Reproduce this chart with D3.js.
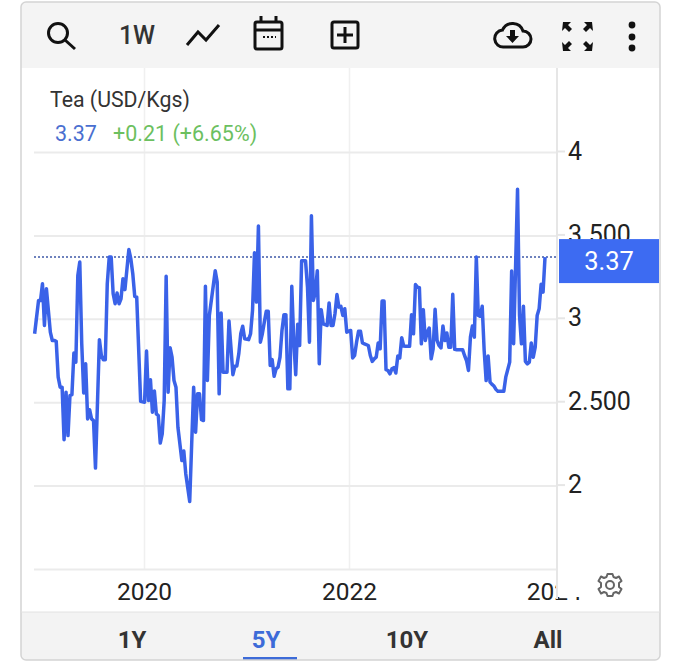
<!DOCTYPE html>
<meta charset="utf-8">
<style>
html, body { margin: 0; background: #fff; }
svg { display: block; font-family: Roboto, sans-serif; }
.grid line { stroke: #ebebeb; stroke-width: 2; }
.grid.vert line { stroke: #f0f0f0; stroke-width: 1.5; }
.grid path { display: none; }
.yaxis path, .xaxis path { display: none; }
.yaxis line, .xaxis line { stroke: #e6e6e6; stroke-width: 2; }
.yaxis text { font-size: 25px; fill: #222; font-family: Roboto, sans-serif; }
.xaxis text { font-size: 24.5px; fill: #222; font-family: Roboto, sans-serif; }
.price { fill: none; stroke: #3a62e8; stroke-width: 3.5; stroke-linejoin: round; }
.icon { fill: none; stroke: #111; stroke-width: 3; }
.btn { font-size: 24px; font-weight: 700; fill: #333; text-anchor: middle; }
</style>
<svg width="680" height="662"></svg>
<script src="https://d3js.org/d3.v7.min.js"></script>
<script>
// weekly tea price, week number counted from the first point
var weeks = [0,2,3,4,5,6,8,9,10,11,12,13,14,15,16,17,18,19,20,21,22,23,24,25,26,27,28,29,30,31,33,34,35,36,37,38,39,40,41,42,43,44,45,46,48,49,50,51,52,54,56,57,58,59,60,61,62,63,64,65,66,67,68,69,70,71,72,73,75,76,77,79,81,82,83,84,85,86,87,88,89,92,93,94,95,96,98,99,
  100,101,102,103,104,105,106,107,109,110,111,112,113,114,115,116,117,118,119,120,121,122,123,124,125,126,127,128,129,130,131,132,133,134,135,136,138,139,140,141,142,143,144,145,146,147,148,149,150,151,152,153,154,155,156,157,158,159,161,162,163,164,165,166,167,168,170,171,172,173,174,175,176,177,178,179,180,181,182,183,184,185,186,187,188,189,191,192,193,194,195,196,197,198,199,200,201,202,203,204,205,206,207,208,209,210,211,212,213,214,215,218,219,220,221,222,223,224,225,226,227,228,229,230,231,232,233,234,235,236,239,240,242,243,244,246,247,248,249,250,251,252,253,254,255,256,257,258,259,260];
var prices = [2.91,3.11,3.11,3.21,2.96,3.18,2.92,2.87,2.87,2.865,2.65,2.59,2.59,2.275,2.56,2.30,2.54,2.545,2.795,2.74,3.26,3.34,2.85,2.555,2.73,2.40,2.455,2.40,2.39,2.105,2.875,2.78,2.755,2.755,3.21,3.37,3.37,3.15,3.09,3.155,3.09,3.12,3.24,3.175,3.415,3.36,3.27,3.135,3.13,2.505,2.50,2.807,2.51,2.635,2.44,2.567,2.43,2.42,2.255,2.31,2.51,3.255,2.56,2.827,2.77,2.63,2.59,2.35,2.15,2.207,2.07,1.905,2.59,2.32,2.55,2.55,2.395,2.39,3.195,2.63,3.02,3.288,3.22,2.55,3.035,2.68,2.68,2.987,
  2.83,2.665,2.715,2.717,2.79,2.91,2.955,2.88,2.875,2.91,3.05,3.396,3.10,3.556,2.86,2.91,2.98,3.045,3.045,2.72,2.755,2.655,2.70,2.71,2.77,2.93,3.025,3.025,2.58,2.58,3.195,2.87,2.665,2.967,2.84,3.348,3.348,3.19,2.86,3.618,3.11,3.16,3.288,2.73,3.055,2.97,2.965,2.96,3.095,2.96,2.96,3.03,3.145,3.07,3.075,3.02,3.06,2.92,2.93,2.765,2.78,2.86,2.925,2.925,2.855,2.85,2.84,2.78,2.745,2.76,2.77,2.855,2.82,3.107,3.107,2.695,2.69,2.67,2.70,2.707,2.675,2.777,2.765,2.887,2.837,2.835,2.835,3.025,2.91,3.205,3.19,3.187,2.85,3.055,2.87,2.92,2.945,2.76,2.82,3.057,2.87,2.84,2.825,2.957,2.87,2.915,2.83,2.83,3.147,2.817,2.815,2.815,2.78,2.75,2.69,2.89,2.957,2.89,3.37,3.02,3.015,3.075,2.81,2.63,2.777,2.62,2.607,2.597,2.577,2.565,2.565,2.65,2.74,3.287,2.85,3.776,3.02,2.85,3.075,2.745,2.73,2.74,2.855,2.77,2.83,3.02,3.06,3.207,3.16,3.37];
var firstWeek = new Date(2018, 11, 7);
var yTicks = [2, 2.5, 3, 3.5, 4];
var yLabels = {2: "2", 2.5: "2.500", 3: "3", 3.5: "3.500", 4: "4"};
var xTicks = [new Date(2020, 0, 1), new Date(2022, 0, 1), new Date(2024, 0, 1)];
var lastPrice = 3.37;
var ranges = ["1Y", "5Y", "10Y", "All"];
var rangeX = [132, 266, 407, 548];

var svg = d3.select("svg");
var plotLeft = 34, axisX = 557, plotTop = 68, plotBottom = 569;

var x = d3.scaleTime()
    .domain([new Date(2020, 0, 1), new Date(2022, 0, 1)])
    .range([144, 349]);
var y = d3.scaleLinear().domain([1.5, 4]).range([plotBottom, 152]);

// card
svg.append("rect").attr("x", 21).attr("y", 2).attr("width", 639).attr("height", 658)
    .attr("rx", 5).attr("fill", "#fff");
svg.append("path").attr("d", "M21 68V7a5 5 0 0 1 5-5H655a5 5 0 0 1 5 5V68Z").attr("fill", "#f4f4f4");
svg.append("path").attr("d", "M21 612V655a5 5 0 0 0 5 5H655a5 5 0 0 0 5-5V612Z").attr("fill", "#f3f3f3");

// grid
svg.append("g").attr("class", "grid vert")
    .attr("transform", "translate(0," + plotBottom + ")")
    .call(d3.axisBottom(x).tickValues(xTicks.slice(0, 2)).tickSize(-(plotBottom - plotTop)).tickFormat(""));
svg.append("g").attr("class", "grid")
    .attr("transform", "translate(" + axisX + ",0)")
    .call(d3.axisLeft(y).tickValues([1.5].concat(yTicks)).tickSize(axisX - plotLeft).tickFormat(""));
svg.append("line").attr("x1", axisX).attr("x2", axisX).attr("y1", plotTop).attr("y2", 600)
    .attr("stroke", "#e6e6e6").attr("stroke-width", 2);

// axes
svg.append("g").attr("class", "yaxis")
    .attr("transform", "translate(" + axisX + ",-1)")
    .call(d3.axisRight(y).tickValues(yTicks).tickSize(8).tickPadding(3)
        .tickFormat(function(d) { return yLabels[d]; }));
svg.append("g").attr("class", "xaxis")
    .attr("transform", "translate(0," + plotBottom + ")")
    .call(d3.axisBottom(x).tickValues(xTicks).tickSize(0).tickPadding(14)
        .tickFormat(d3.timeFormat("%Y")));

// the last year label is half hidden in the original
svg.append("rect").attr("x", 556.5).attr("y", 572).attr("width", 36).attr("height", 25).attr("fill", "#fff");
svg.append("line").attr("x1", axisX).attr("x2", axisX).attr("y1", 569).attr("y2", 599)
    .attr("stroke", "#e6e6e6").attr("stroke-width", 2);

// last value marker
svg.append("line").attr("x1", plotLeft).attr("x2", axisX)
    .attr("y1", y(lastPrice)).attr("y2", y(lastPrice))
    .attr("stroke", "#3f5aa8").attr("stroke-width", 1.5).attr("stroke-dasharray", "2 2");

var line = d3.line()
    .x(function(d, i) { return x(d3.timeWeek.offset(firstWeek, d)); })
    .y(function(d, i) { return y(prices[i]); });
svg.append("path").datum(weeks).attr("class", "price").attr("d", line);

svg.append("rect").attr("x", 559).attr("y", y(lastPrice) - 18).attr("width", 100).attr("height", 44)
    .attr("fill", "#3d6bf2");
svg.append("text").attr("x", 609).attr("y", y(lastPrice) + 13).attr("text-anchor", "middle")
    .attr("font-size", 25.5).attr("fill", "#fff").text(lastPrice);

// title
svg.append("text").attr("x", 50).attr("y", 107).attr("font-size", 21.3).attr("fill", "#333").text("Tea (USD/Kgs)");
svg.append("text").attr("x", 55).attr("y", 141).attr("font-size", 21.500).attr("fill", "#4a6fd0").text("3.37");
svg.append("text").attr("x", 113).attr("y", 141).attr("font-size", 21.500).attr("fill", "#6cc05f").text("+0.21 (+6.65%)");

// toolbar
var bar = svg.append("g");
bar.append("circle").attr("class", "icon").attr("cx", 58).attr("cy", 33).attr("r", 9.5);
bar.append("path").attr("class", "icon").attr("d", "M65 40L75 49");
bar.append("text").attr("x", 137).attr("y", 44).attr("text-anchor", "middle")
    .attr("font-size", 25).attr("font-weight", 500).attr("fill", "#333").text("1W");
bar.append("path").attr("class", "icon").attr("d", "M187 45L198 32L206 40L219 25");
bar.append("rect").attr("class", "icon").attr("x", 255).attr("y", 22).attr("width", 27).attr("height", 27).attr("rx", 2);
bar.append("path").attr("class", "icon").attr("d", "M255 30H282M261 16V22M276 16V22");
bar.append("path").attr("stroke", "#111").attr("stroke-width", 2).attr("stroke-dasharray", "2 2").attr("d", "M263 37H276");
bar.append("rect").attr("class", "icon").attr("x", 332).attr("y", 22).attr("width", 26).attr("height", 26).attr("rx", 2);
bar.append("path").attr("class", "icon").attr("d", "M345 27V43M337 35H353");
bar.append("path").attr("class", "icon")
    .attr("d", "M504 47a8.5 8.5 0 0 1-1.5-17a11 11 0 0 1 20.5 1a8 8 0 0 1 0 16Z");
bar.append("path").attr("d", "M510 30h5v6h4l-6.500 7l-6.500-7h4Z").attr("fill", "#111");
bar.append("path").attr("fill", "#111")
    .attr("d", "M563 22h8l-3 3l4 4l-3 3l-4-4l-3 3ZM592 22h-8l3 3l-4 4l3 3l4-4l3 3ZM563 51h8l-3-3l4-4l-3-3l-4 4l-3-3ZM592 51h-8l3-3l-4-4l3-3l4 4l3-3Z");
[25, 37, 48].forEach(function(c) {
    bar.append("circle").attr("cx", 632).attr("cy", c).attr("r", 3.4).attr("fill", "#111");
});

// gear
var gear = svg.append("g").attr("transform", "translate(610,585)");
gear.append("circle").attr("r", 4).attr("fill", "none").attr("stroke", "#666").attr("stroke-width", 2);
gear.append("path").attr("fill", "none").attr("stroke", "#666").attr("stroke-width", 2)
    .attr("stroke-linejoin", "round")
    .attr("d", "M-2.500-11H2.500L3.500-8L6-7L9-8.500L11.500-4L9-2V2L11.500 4L9 8.500L6 7L3.500 8L2.500 11H-2.500L-3.500 8L-6 7L-9 8.500L-11.500 4L-9 2V-2L-11.500-4L-9-8.500L-6-7L-3.500-8Z");

// range buttons
svg.selectAll(".btn").data(ranges).enter().append("text")
    .attr("class", "btn")
    .attr("x", function(d, i) { return rangeX[i]; })
    .attr("y", 648)
    .style("fill", function(d) { return d == "5Y" ? "#3d6bd8" : "#333"; })
    .text(function(d) { return d; });
svg.append("rect").attr("x", 243).attr("y", 657).attr("width", 54).attr("height", 3).attr("fill", "#3d6bd8");

// borders
svg.append("rect").attr("x", 21).attr("y", 2).attr("width", 639).attr("height", 658).attr("rx", 5)
    .attr("fill", "none").attr("stroke", "#d4d4d4").attr("stroke-width", 1.5);
svg.append("line").attr("x1", 21).attr("x2", 660).attr("y1", 612).attr("y2", 612).attr("stroke", "#e2e2e2");
</script>
